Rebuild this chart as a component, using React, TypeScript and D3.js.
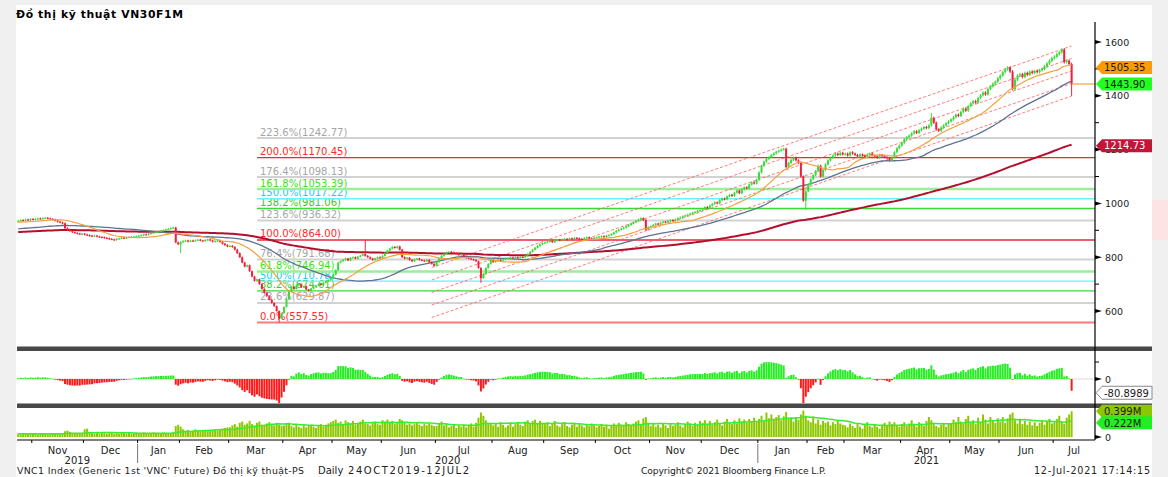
import React from "react";
import * as d3 from "d3";

// ---------------- DATA ----------------
const monthNames = ["Oct","Nov","Dec","Jan","Feb","Mar","Apr","May","Jun","Jul","Aug","Sep","Oct","Nov","Dec","Jan","Feb","Mar","Apr","May","Jun","Jul"];
const monthYears = [2019,2019,2019,2020,2020,2020,2020,2020,2020,2020,2020,2020,2020,2020,2020,2021,2021,2021,2021,2021,2021,2021];

// daily closes, one array per month (trading days)
const closesByMonth: number[][] = [
  [935, 938, 936, 940, 938, 942],
  [940, 942, 944, 943, 945, 946, 944, 942, 940, 936, 932, 929, 926, 908, 902, 897, 893, 890, 888, 885, 887],
  [884, 882, 880, 878, 880, 877, 875, 874, 872, 870, 868, 866, 864, 868, 870, 872, 870, 873, 875, 874, 877, 878],
  [880, 882, 885, 884, 887, 890, 892, 894, 896, 898, 900, 903, 905, 908, 910, 855, 848],
  [856, 860, 862, 858, 862, 860, 863, 865, 862, 860, 864, 866, 862, 858, 860, 862, 857, 850, 845, 840],
  [842, 838, 828, 815, 800, 780, 765, 770, 748, 728, 712, 718, 700, 682, 668, 655, 642, 630, 618, 600, 572, 592],
  [615, 645, 672, 690, 682, 695, 700, 688, 692, 680, 675, 684, 690, 695, 700, 697, 705, 710, 715, 722],
  [735, 752, 780, 785, 790, 795, 788, 798, 800, 795, 802, 806, 812, 805, 800, 795, 790, 795, 800, 798],
  [805, 815, 825, 832, 838, 835, 840, 828, 800, 795, 798, 790, 785, 792, 795, 790, 788, 785, 790, 782, 775, 768],
  [782, 795, 805, 812, 818, 820, 818, 815, 812, 808, 810, 800, 798, 795, 792, 790, 785, 760, 722, 738, 760, 775, 790],
  [782, 786, 790, 788, 792, 795, 797, 799, 796, 800, 798, 801, 800, 805, 812, 820, 828, 835, 842, 848, 852],
  [855, 858, 860, 856, 862, 865, 862, 866, 868, 865, 870, 868, 872, 870, 868, 866, 871, 874, 870, 868, 872],
  [874, 876, 878, 875, 880, 882, 886, 892, 898, 902, 906, 910, 915, 920, 925, 930, 935, 940, 945, 938, 902, 912],
  [915, 920, 925, 922, 928, 932, 930, 935, 938, 936, 940, 945, 948, 952, 955, 958, 962, 965, 968, 972, 975],
  [978, 986, 984, 992, 998, 1004, 1000, 1012, 1018, 1015, 1026, 1032, 1028, 1040, 1048, 1038, 1052, 1060, 1056, 1070, 1078, 1074, 1088],
  [1115, 1140, 1155, 1165, 1172, 1180, 1186, 1192, 1196, 1200, 1203, 1135, 1150, 1162, 1170, 1160, 1150, 1100, 1010, 1045],
  [1070, 1090, 1105, 1120, 1140, 1100, 1125, 1145, 1160, 1170, 1178, 1185, 1180, 1188, 1182],
  [1185, 1178, 1190, 1185, 1180, 1175, 1182, 1178, 1172, 1180, 1185, 1178, 1175, 1170, 1180, 1176, 1172, 1168, 1160, 1170, 1190, 1205, 1215],
  [1225, 1238, 1246, 1252, 1260, 1268, 1262, 1272, 1278, 1284, 1280, 1290, 1318, 1300, 1275, 1270, 1282, 1290, 1298, 1305],
  [1312, 1320, 1330, 1325, 1340, 1352, 1345, 1362, 1372, 1380, 1375, 1392, 1402, 1412, 1405, 1425, 1435, 1445, 1452, 1465],
  [1475, 1488, 1498, 1505, 1490, 1425, 1460, 1475, 1480, 1470, 1485, 1478, 1490, 1485, 1492, 1488, 1495, 1500, 1510, 1520, 1530, 1540],
  [1545, 1555, 1562, 1572, 1525, 1530, 1518, 1443.9],
];

// daily volume, units of 0.01M contracts
const volumesByMonth: number[][] = [
  [5, 4, 6, 5, 4, 5],
  [5, 6, 4, 5, 6, 5, 4, 6, 5, 5, 6, 4, 6, 9, 10, 8, 6, 5, 6, 5, 6],
  [12, 13, 7, 6, 5, 6, 5, 7, 6, 5, 6, 7, 5, 6, 5, 6, 7, 5, 6, 5, 6, 7],
  [6, 5, 7, 6, 5, 6, 7, 6, 5, 6, 7, 6, 5, 6, 8, 17, 19],
  [16, 12, 10, 11, 9, 10, 12, 10, 9, 11, 10, 9, 10, 11, 12, 10, 12, 13, 14, 15],
  [15, 18, 20, 16, 22, 24, 19, 21, 25, 20, 18, 22, 24, 19, 17, 21, 23, 20, 18, 22, 19, 17],
  [18, 20, 22, 17, 15, 19, 16, 14, 18, 15, 17, 19, 16, 14, 18, 20, 16, 19, 21, 23],
  [25, 27, 22, 24, 20, 26, 23, 21, 25, 19, 22, 24, 27, 21, 20, 18, 22, 24, 20, 19],
  [26, 24, 27, 22, 25, 20, 23, 28, 26, 22, 19, 21, 18, 20, 22, 19, 17, 20, 18, 21, 19, 17],
  [17, 20, 24, 18, 21, 15, 17, 20, 14, 18, 16, 19, 15, 18, 21, 16, 22, 30, 38, 33, 26, 22, 20],
  [18, 21, 16, 23, 19, 15, 18, 22, 16, 20, 23, 19, 17, 24, 26, 20, 25, 27, 21, 25, 22],
  [20, 23, 17, 21, 25, 18, 16, 20, 23, 17, 15, 19, 22, 16, 20, 18, 15, 19, 17, 21, 18],
  [15, 17, 20, 16, 19, 13, 17, 21, 18, 22, 19, 17, 23, 20, 18, 21, 24, 26, 20, 29, 31, 22],
  [17, 20, 16, 19, 15, 21, 18, 14, 20, 17, 19, 23, 18, 15, 20, 24, 21, 17, 22, 19, 25],
  [22, 26, 20, 25, 19, 23, 27, 21, 18, 24, 28, 22, 20, 26, 21, 29, 24, 27, 22, 28, 25, 30, 23],
  [28, 33, 25, 38, 29, 35, 27, 31, 34, 26, 32, 39, 29, 28, 24, 31, 27, 35, 41, 33],
  [26, 23, 30, 21, 27, 19, 25, 22, 24, 18, 23, 20, 26, 21, 19],
  [18, 15, 21, 17, 14, 20, 16, 13, 19, 23, 17, 15, 20, 16, 13, 19, 22, 17, 24, 20, 23, 18, 16],
  [20, 23, 17, 21, 26, 19, 16, 23, 20, 17, 25, 31, 26, 20, 17, 15, 19, 22, 16, 21],
  [21, 27, 23, 31, 24, 21, 28, 33, 22, 26, 20, 30, 23, 35, 27, 21, 31, 25, 22, 29],
  [24, 31, 22, 29, 35, 38, 26, 21, 27, 20, 25, 19, 24, 18, 23, 17, 22, 26, 19, 24, 28, 21],
  [23, 28, 33, 24, 20, 30, 35, 39.9],
];

// notable intraday extremes (month index, day index in month)
const wickExtremes = [
  { m: 4, k: 0, low: 815 },
  { m: 5, k: 20, low: 557.55 },
  { m: 7, k: 13, high: 864 },
  { m: 9, k: 18, low: 705 },
  { m: 15, k: 19, low: 975 },
  { m: 18, k: 12, high: 1336 },
  { m: 20, k: 3, high: 1510 },
  { m: 21, k: 3, high: 1576 },
  { m: 21, k: 7, low: 1400 },
];

// Fibonacci extension
const fibPcts = [0, 23.6, 38.2, 50, 61.8, 76.4, 100, 123.6, 138.2, 150, 161.8, 176.4, 200, 223.6];
const fibValues = [557.55, 629.87, 674.61, 710.78, 746.94, 791.68, 864.0, 936.32, 981.06, 1017.22, 1053.39, 1098.13, 1170.45, 1242.77];
const fibStartIdx = 97;

// regression channel (trading-day indices, centre values, band step)
const channelStartIdx = 168;
const channelEndIdx = 428;
const channelStartVal = 668.8;
const channelEndVal = 1492.2;
const channelStep = 46.5;
const channelBands = [-2, -1, 0, 1, 2];

// MA lengths and values before the window
const maSpecs = { fast: 20, mid: 50, slow: 200 };
const maSeeds = { fast: 930, mid: 905, slow: 893, vol: 0.05 };

// right-hand value tags
const priceTicks = [600, 800, 1000, 1200, 1400, 1600];
const priceMinor = [700, 900, 1100, 1300, 1500];
const lastFastMA = 1505.35;
const lastPrice = 1443.9;
const lastSlowMA = 1214.73;
const lastOsc = -80.8989;
const lastVol = 0.399;
const lastVolMA = 0.222;

const FONT = "DejaVu Sans, Verdana, sans-serif";

function sma(arr: number[], len: number, seed: number) {
  return arr.map((_, i) => {
    let s = 0;
    for (let j = i - len + 1; j <= i; j++) s += j >= 0 ? arr[j] : seed;
    return s / len;
  });
}
function ema(arr: number[], len: number, seed: number) {
  const a = 2 / (len + 1);
  const out: number[] = [];
  let prev = seed;
  arr.forEach((v) => { prev = prev + a * (v - prev); out.push(prev); });
  return out;
}

function Tag({ y, text, fill, color, stroke }: { y: number; text: string; fill: string; color: string; stroke?: string }) {
  return (
    <g>
      <path d={`M1096,${y} L1102,${y - 6.5} L1152,${y - 6.5} L1152,${y + 6.5} L1102,${y + 6.5} Z`} fill={fill} stroke={stroke || "none"} strokeWidth={1} />
      <text x={1104} y={y + 3.8} fontSize={10} fill={color} fontFamily={FONT}>{text}</text>
    </g>
  );
}

function fibStyle(p: number) {
  if (p === 0) return { line: "#ff7a7a", w: 2, label: "#ff2a2a" };
  if (p === 100 || p === 200) return { line: "#e8283c", w: 1.3, label: "#ff2a2a" };
  if (p === 38.2 || p === 138.2) return { line: "#33dd33", w: 1.3, label: "#33cc22" };
  if (p === 61.8 || p === 161.8) return { line: "#9ced9c", w: 2.5, label: "#44dd22" };
  if (p === 50 || p === 150) return { line: "#66f2ff", w: 1.3, label: "#22c8ff" };
  return { line: "#d2d2d2", w: 2, label: "#a6a6a6" };
}

export default function App() {
  const closes = closesByMonth.flat();
  const volumes = volumesByMonth.flat().map((v) => v / 100);
  const n = closes.length;
  const monthStart: number[] = [];
  let acc = 0;
  closesByMonth.forEach((a) => { monthStart.push(acc); acc += a.length; });

  const opens = closes.map((c, i) => (i === 0 ? c - 3 : closes[i - 1]));
  const highs = closes.map((c, i) => Math.max(c, opens[i]) + c * 0.0035);
  const lows = closes.map((c, i) => Math.min(c, opens[i]) - c * 0.0035);
  wickExtremes.forEach((w) => {
    const i = monthStart[w.m] + w.k;
    if (w.high !== undefined) highs[i] = w.high;
    if (w.low !== undefined) lows[i] = w.low;
  });

  const maFast = sma(closes, maSpecs.fast, maSeeds.fast);
  const maMid = sma(closes, maSpecs.mid, maSeeds.mid);
  const maSlow = ema(closes, maSpecs.slow, maSeeds.slow);
  const osc = closes.map((c, i) => c - maFast[i]);
  const volMA = sma(volumes, 20, maSeeds.vol);

  const x = d3.scaleLinear().domain([0, 438]).range([17, 1095]);
  const cx = (i: number) => x(i + 0.5);
  const yP = d3.scaleLinear().domain([600, 1600]).range([311, 42]);
  const yO = d3.scaleLinear().domain([-100, 100]).range([396, 362]);
  const yV = d3.scaleLinear().domain([0, 0.5]).range([437, 404.8]);

  const line = (vals: number[]) =>
    d3.line<number>().x((_, i) => cx(i)).y((v) => yP(v))(vals) || "";
  const volLine = d3.line<number>().x((_, i) => cx(i)).y((v) => yV(v))(volMA) || "";

  const idx = d3.range(n);
  const up = "#38dc38";
  const down = "#f0203c";

  return (
    <svg width={1168} height={477} style={{ position: "absolute", left: 0, top: 0 }} fontFamily={FONT}>
      <defs>
        <clipPath id="pc"><rect x={17} y={22} width={1078} height={324} /></clipPath>
      </defs>
      <rect x={0} y={0} width={1168} height={477} fill="#f0f0f0" />
      <rect x={16} y={5} width={1136} height={472} fill="#ffffff" />
      <rect x={1152} y={200} width={16} height={40} fill="#fde4e4" />

      <text x={16} y={18} fontSize={10.8} fontWeight="bold" fill="#000" textLength={167} lengthAdjust="spacing">Đồ thị kỹ thuật VN30F1M</text>

      {/* price panel */}
      <g clipPath="url(#pc)">
        {fibPcts.map((p, j) => {
          const s = fibStyle(p);
          const yy = yP(fibValues[j]);
          return (
            <g key={"f" + j}>
              <line x1={x(fibStartIdx + 0.5)} x2={1095} y1={yy} y2={yy} stroke={s.line} strokeWidth={s.w} />
              <text x={260} y={yy - 2.5} fontSize={10} fill={s.label}>{`${p.toFixed(1)}%(${fibValues[j].toFixed(2)})`}</text>
            </g>
          );
        })}
        {channelBands.map((b) => (
          <line key={"c" + b}
            x1={cx(channelStartIdx)} x2={cx(channelEndIdx)}
            y1={yP(channelStartVal + b * channelStep)} y2={yP(channelEndVal + b * channelStep)}
            stroke="#ff5a5a" strokeOpacity={0.8} strokeWidth={1} strokeDasharray="3,2" />
        ))}
        <path d={line(maSlow)} fill="none" stroke="#b3102e" strokeWidth={2} />
        <path d={line(maMid)} fill="none" stroke="#5d7391" strokeWidth={1.3} />
        {idx.map((i) => {
          const o = opens[i], c = closes[i];
          const col = c >= o ? up : down;
          const top = yP(Math.max(o, c));
          const h = Math.max(1, yP(Math.min(o, c)) - top);
          return (
            <g key={"k" + i}>
              <line x1={cx(i)} x2={cx(i)} y1={yP(highs[i])} y2={yP(lows[i])} stroke={col} strokeWidth={1} />
              <rect x={cx(i) - 1} y={top} width={2} height={h} fill={col} />
            </g>
          );
        })}
        <path d={line(maFast)} fill="none" stroke="#f5a040" strokeWidth={1.2} />
        <line x1={cx(n - 1)} x2={1095} y1={yP(lastPrice)} y2={yP(lastPrice)} stroke="#f5a040" strokeWidth={1.2} />
      </g>

      {/* price axis */}
      {priceTicks.map((t) => (
        <g key={"pt" + t}>
          <path d={`M1095,${yP(t) - 2} L1102,${yP(t)} L1095,${yP(t) + 2} Z`} fill="#000" />
          <text x={1105} y={yP(t) + 3.5} fontSize={9.5} fill="#222">{t}</text>
        </g>
      ))}
      {priceMinor.map((t) => (
        <line key={"pm" + t} x1={1095} x2={1099} y1={yP(t)} y2={yP(t)} stroke="#000" />
      ))}
      <Tag y={yP(lastFastMA)} text={lastFastMA.toFixed(2)} fill="#ff9a00" color="#1a1a1a" />
      <Tag y={yP(lastPrice)} text={lastPrice.toFixed(2)} fill="#22ff22" color="#1a1a1a" />
      <Tag y={yP(lastSlowMA)} text={lastSlowMA.toFixed(2)} fill="#c4143a" color="#ffffff" />

      {/* separators */}
      {[347, 404].map((yy) => (
        <g key={"s" + yy}>
          <rect x={17} y={yy} width={1135} height={4} fill="#484848" />
          <rect x={17} y={yy - 1} width={1135} height={1} fill="#a0a0a0" />
        </g>
      ))}

      {/* oscillator */}
      <line x1={17} x2={1095} y1={yO(0)} y2={yO(0)} stroke="#e6d6d6" strokeWidth={1} />
      {idx.map((i) => {
        const v = osc[i];
        const y0 = yO(0), y1 = yO(v);
        return (
          <rect key={"o" + i} x={cx(i) - 1} y={Math.min(y0, y1)} width={2} height={Math.max(0.6, Math.abs(y1 - y0))}
            fill={v >= 0 ? "#22ee22" : "#ff1a1a"} />
        );
      })}
      <path d={`M1095,${yO(0) - 2} L1102,${yO(0)} L1095,${yO(0) + 2} Z`} fill="#000" />
      <text x={1105} y={yO(0) + 3.5} fontSize={9.5} fill="#222">0</text>
      <line x1={1095} x2={1099} y1={yO(100)} y2={yO(100)} stroke="#000" />
      <Tag y={yO(lastOsc)} text={lastOsc.toFixed(4)} fill="#ffffff" color="#1a1a1a" stroke="#888" />

      {/* volume */}
      {idx.map((i) => (
        <rect key={"v" + i} x={cx(i) - 1} y={yV(volumes[i])} width={2} height={yV(0) - yV(volumes[i])} fill="#8cc800" />
      ))}
      <path d={volLine} fill="none" stroke="#33ee33" strokeWidth={1.5} />
      <path d={`M1095,${yV(0) - 2} L1102,${yV(0)} L1095,${yV(0) + 2} Z`} fill="#000" />
      <text x={1105} y={yV(0) + 3.5} fontSize={9.5} fill="#222">0</text>
      <Tag y={yV(lastVol)} text={lastVol.toFixed(3) + "M"} fill="#8cc800" color="#1a1a1a" />
      <Tag y={yV(lastVolMA)} text={lastVolMA.toFixed(3) + "M"} fill="#22ee22" color="#1a1a1a" />

      {/* right axis line */}
      <line x1={1095} x2={1095} y1={22} y2={440} stroke="#000" strokeWidth={1.2} />

      {/* time axis */}
      <line x1={17} x2={1095} y1={440} y2={440} stroke="#000" strokeWidth={1} />
      {monthStart.map((s, m) => {
        const end = m + 1 < monthStart.length ? monthStart[m + 1] : 438;
        const len = end - s;
        return (
          <g key={"m" + m}>
            {m > 0 && <line x1={x(s)} x2={x(s)} y1={440} y2={443} stroke="#000" />}
            {len >= 10 && (
              <text x={x((s + end) / 2)} y={454} fontSize={10} textAnchor="middle" fill="#222">{monthNames[m]}</text>
            )}
          </g>
        );
      })}
      {[2019, 2020, 2021].map((yr) => {
        const ms = monthYears.map((y, m) => (y === yr ? m : -1)).filter((m) => m >= 0);
        const s = monthStart[ms[0]];
        const last = ms[ms.length - 1];
        const e = last + 1 < monthStart.length ? monthStart[last + 1] : 438;
        return (
          <g key={"y" + yr}>
            {yr !== 2019 && <line x1={x(s)} x2={x(s)} y1={444} y2={463} stroke="#777" />}
            <text x={x((s + e) / 2)} y={464} fontSize={10} textAnchor="middle" fill="#222">{yr}</text>
          </g>
        );
      })}

      {/* footer */}
      <text x={17} y={474} fontSize={9.4} fill="#222" textLength={287} lengthAdjust="spacing">VNC1 Index (Generic 1st 'VNC' Future) Đồ thị kỹ thuật-PS</text>
      <text x={318} y={474} fontSize={10} fill="#222">Daily</text>
      <text x={348} y={474} fontSize={10} fill="#222" textLength={121} lengthAdjust="spacing">24OCT2019-12JUL2</text>
      <text x={641} y={474} fontSize={9.2} fill="#222" textLength={185} lengthAdjust="spacing">Copyright© 2021 Bloomberg Finance L.P.</text>
      <text x={1034} y={474} fontSize={9.6} fill="#222" textLength={116} lengthAdjust="spacing">12-Jul-2021 17:14:15</text>
    </svg>
  );
}
